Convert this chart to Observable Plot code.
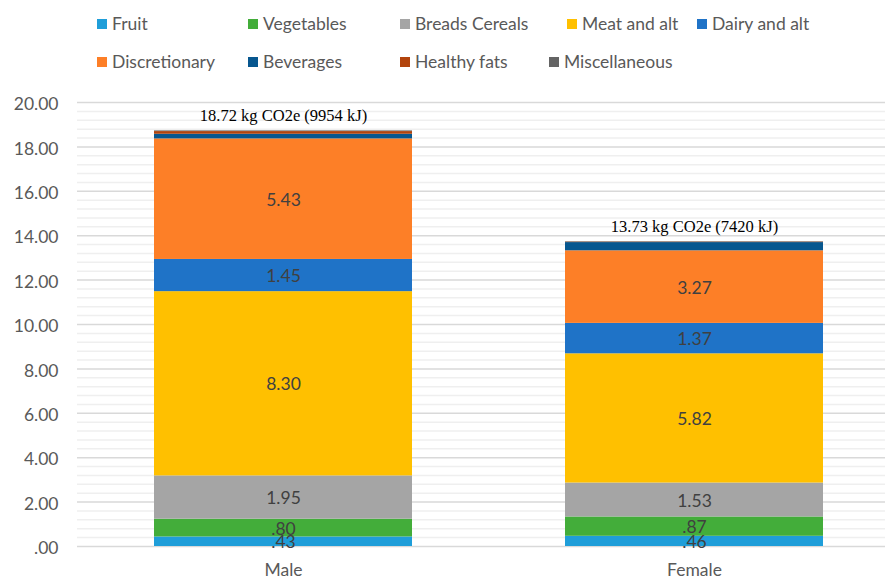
<!DOCTYPE html>
<html>
<head>
<meta charset="utf-8">
<script src="https://cdn.jsdelivr.net/npm/d3@7"></script>
<script src="https://cdn.jsdelivr.net/npm/@observablehq/plot@0.6"></script>
<style>
  html, body { margin: 0; padding: 0; background: #fff; }
  #wrap { position: relative; width: 885px; height: 581px; overflow: hidden; font-family: Lato, "Open Sans", sans-serif; }
  #legend { position: relative; width: 885px; height: 90px; }
  .item { position: absolute; display: flex; align-items: center; font-size: 17.5px; color: #595959; white-space: nowrap; }
  .sw { width: 10px; height: 10px; margin-right: 5px; }
  svg { display: block; }
</style>
</head>
<body>
<div id="wrap">
  <div id="legend"></div>
  <div id="chart"></div>
</div>
<script>
const sexes = ["Male", "Female"];
const categories = ["Fruit", "Vegetables", "Breads Cereals", "Meat and alt", "Dairy and alt",
                    "Discretionary", "Beverages", "Healthy fats", "Miscellaneous"];
const maleValues   = [0.43, 0.80, 1.95, 8.30, 1.45, 5.43, 0.21, 0.12, 0.03];
const femaleValues = [0.46, 0.87, 1.53, 5.82, 1.37, 3.27, 0.37, 0.02, 0.02];
const labelled     = [true, true, true, true, true, true, false, false, false];
const totals = [18.72, 13.73];
const energyKJ = [9954, 7420];
const colors = ["#1f9ed9", "#43ad3a", "#a5a5a5", "#ffc000", "#1f73c7",
                "#fd7f27", "#07578f", "#b2440d", "#646464"];
const yTicks = [0, 2, 4, 6, 8, 10, 12, 14, 16, 18, 20];
const legendPos = [[97, 25], [248, 25], [400, 25], [567, 25], [697, 25],
                   [97, 63], [248, 63], [400, 63], [549, 63]];

// legend
const legend = document.getElementById("legend");
categories.forEach((c, i) => {
  const el = document.createElement("div");
  el.className = "item";
  el.style.left = legendPos[i][0] + "px";
  el.style.top = (legendPos[i][1] - 12) + "px";
  el.innerHTML = `<span class="sw" style="background:${colors[i]}"></span><span>${c}</span>`;
  legend.appendChild(el);
});

const fmt = v => d3.format(".2f")(v).replace(/^0\./, ".");

const rows = [];
sexes.forEach((s, si) => {
  const vals = si === 0 ? maleValues : femaleValues;
  categories.forEach((c, ci) => {
    rows.push({sex: s, cat: c, value: vals[ci], label: labelled[ci] ? fmt(vals[ci]) : ""});
  });
});
const totalRows = sexes.map((s, i) => ({sex: s, total: totals[i],
  label: `${totals[i].toFixed(2)} kg CO2e (${energyKJ[i]} kJ)`}));

const minor = d3.range(0, 20.001, 0.4).filter(v => Math.abs(v / 2 - Math.round(v / 2)) > 1e-6);

const chart = Plot.plot({
  width: 885,
  height: 491,
  marginTop: 12,
  marginBottom: 35,
  marginLeft: 77,
  marginRight: 0,
  style: {fontFamily: "Lato, 'Open Sans', sans-serif", fontSize: "17.5px", color: "#595959", background: "#fff"},
  x: {domain: sexes, range: [77.5, 899.5], paddingInner: 0.372, paddingOuter: 0.186, label: null},
  y: {domain: [0, 20], label: null},
  color: {domain: categories, range: colors},
  marks: [
    Plot.ruleY(minor, {stroke: "#efefef", strokeWidth: 1.5}),
    Plot.ruleY(yTicks, {stroke: "#d9d9d9", strokeWidth: 1.5}),
    Plot.axisY({ticks: yTicks, tickSize: 0, tickPadding: 19, tickFormat: fmt, dy: 2, fontSize: 17.5, fill: "#595959"}),
    Plot.axisX({tickSize: 0, tickPadding: 17, fontSize: 17.5, fill: "#595959"}),
    Plot.barY(rows, Plot.stackY({x: "sex", y: "value", fill: "cat", order: categories})),
    Plot.text(rows, Plot.stackY({x: "sex", y: "value", z: "cat", order: categories, text: "label",
      fill: "#404040", fontSize: 17.5, dy: 1})),
    Plot.text(totalRows, {x: "sex", y: "total", text: "label", dy: -15,
      fontFamily: "'Liberation Serif', 'Times New Roman', serif", fontSize: 16.5, fill: "#000"})
  ]
});
document.getElementById("chart").appendChild(chart);
</script>
</body>
</html>
